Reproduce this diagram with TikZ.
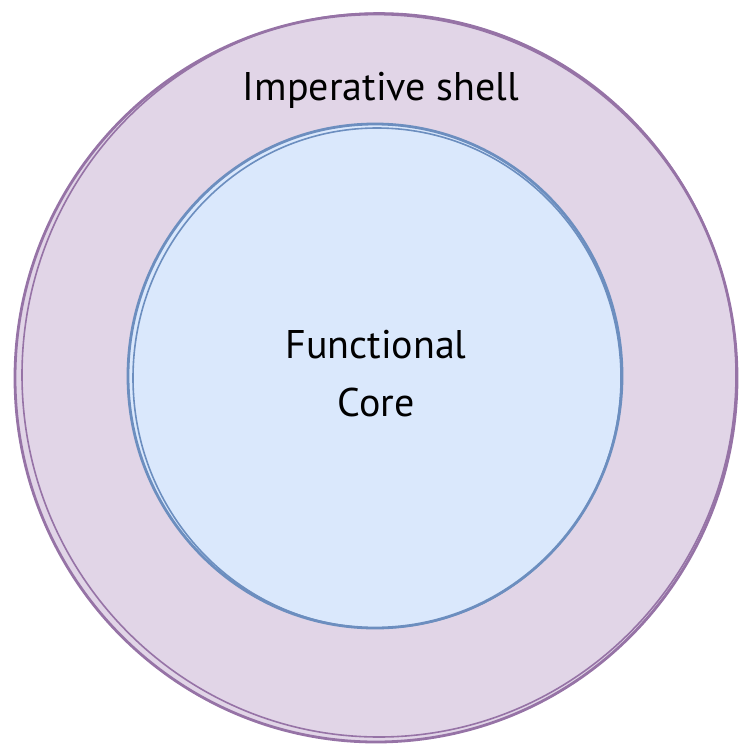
\documentclass[tikz,border=0pt]{standalone}
\usepackage{fontspec}
\setmainfont{PT Sans}
\definecolor{shellfill}{HTML}{E1D5E7}
\definecolor{shelldraw}{HTML}{9673A6}
\definecolor{corefill}{HTML}{DAE8FC}
\definecolor{coredraw}{HTML}{6C8EBF}
\begin{document}
\begin{tikzpicture}[x=1pt,y=-1pt,
  shellstroke/.style={draw=shelldraw,line width=2.8pt},
  corestroke/.style={draw=coredraw,line width=2.8pt},
  lbl/.style={font=\fontsize{40}{58}\selectfont,text=black,align=center,inner sep=0pt}]
\useasboundingbox (0,0) rectangle (753,753);
% outer shell
\fill[shellfill] (376,378) ellipse [x radius=361, y radius=364];
\draw[shellstroke] (376,378) ellipse [x radius=361, y radius=364];
\draw[shelldraw,line width=1.6pt] (379,375) ellipse [x radius=357, y radius=362];
% inner core
\fill[corefill] (375,376) ellipse [x radius=247, y radius=252];
\draw[corestroke] (375,376) ellipse [x radius=247, y radius=252];
\draw[coredraw,line width=1.6pt] (377,378) ellipse [x radius=244, y radius=250];
% labels
\node[lbl] (shell) at (381,90) {Imperative shell};
\node[lbl] (core) at (376,374) {Functional\\Core};
\end{tikzpicture}
\end{document}
